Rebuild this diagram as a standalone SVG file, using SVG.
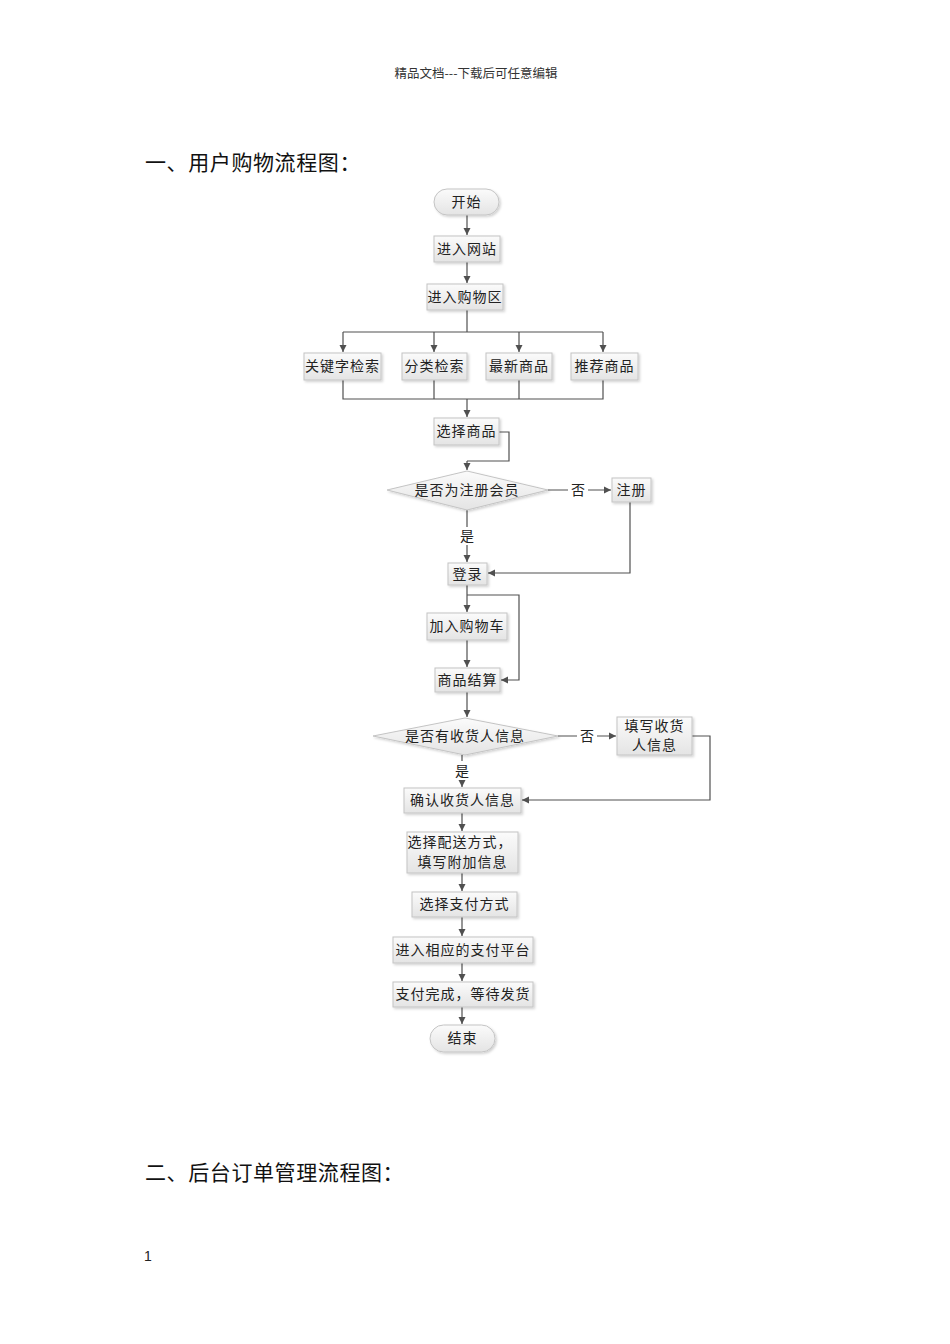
<svg xmlns="http://www.w3.org/2000/svg" width="950" height="1344" viewBox="0 0 950 1344">
<style>
.bg{fill:#ffffff}
.box{fill:url(#g);stroke:#c4c4c4;stroke-width:1;filter:url(#sh)}
.t{font-family:"Noto Sans CJK SC","Liberation Sans",sans-serif;font-size:14px;fill:#222;text-anchor:middle;dominant-baseline:central;letter-spacing:1px;transform:translateY(-1.5px)}
.lbl{font-family:"Noto Sans CJK SC","Liberation Sans",sans-serif;font-size:14px;fill:#222;text-anchor:middle;dominant-baseline:central;transform:translateY(-1.5px)}
.ln{fill:none;stroke:#505050;stroke-width:1.2}
.arr{fill:none;stroke:#505050;stroke-width:1.2;marker-end:url(#a)}
.h{font-family:"Noto Sans CJK SC","Liberation Sans",sans-serif;font-size:21px;fill:#111;letter-spacing:0.6px}
.hd{font-family:"Noto Sans CJK SC","Liberation Serif",serif;font-size:12.5px;fill:#333;text-anchor:middle}
</style>
<defs>
<linearGradient id="g" x1="0" y1="0" x2="0" y2="1">
<stop offset="0" stop-color="#fbfbfb"/>
<stop offset="1" stop-color="#e4e4e4"/>
</linearGradient>
<filter id="sh" x="-10%" y="-10%" width="130%" height="140%">
<feDropShadow dx="1.5" dy="1.5" stdDeviation="0.8" flood-color="#000" flood-opacity="0.18"/>
</filter>
<marker id="a" markerWidth="8" markerHeight="8" refX="7" refY="4" orient="auto" markerUnits="userSpaceOnUse">
<path d="M0,0.5 L7,4 L0,7.5 Z" fill="#505050"/>
</marker>
</defs>
<rect class="bg" x="0" y="0" width="950" height="1344"/>

<text class="hd" x="476" y="78">精品文档---下载后可任意编辑</text>
<text class="h" x="145" y="170">一、用户购物流程图：</text>
<text class="h" x="145" y="1180">二、后台订单管理流程图：</text>
<text x="144" y="1261" style="font-family:'Liberation Sans',sans-serif;font-size:14px;fill:#222">1</text>

<g id="connectors">
<path class="arr" d="M467,215 V235"/>
<path class="arr" d="M467,262 V283"/>
<path class="ln" d="M467,310 V332"/>
<path class="ln" d="M343,332 H603"/>
<path class="arr" d="M343,332 V352"/>
<path class="arr" d="M434,332 V352"/>
<path class="arr" d="M519,332 V352"/>
<path class="arr" d="M603,332 V352"/>
<path class="ln" d="M343,380 V399 H603 V380"/>
<path class="ln" d="M434,380 V399"/>
<path class="ln" d="M519,380 V399"/>
<path class="arr" d="M467,399 V417"/>
<path class="ln" d="M499,432 H509 V461 H467"/>
<path class="arr" d="M467,461 V470"/>
<path class="arr" d="M548,490 H611"/>
<path class="ln" d="M467,510 V527"/>
<path class="arr" d="M467,545 V562"/>
<path class="arr" d="M630,502 V573 H488"/>
<path class="arr" d="M467,585 V612"/>
<path class="arr" d="M467,595 H519 V680 H501"/>
<path class="arr" d="M467,640 V667"/>
<path class="arr" d="M467,692 V717"/>
<path class="arr" d="M558,736 H616"/>
<path class="arr" d="M692,736 H710 V800 H522"/>
<path class="ln" d="M462,755 V761"/>
<path class="arr" d="M462,780 V787"/>
<path class="arr" d="M462,813 V831"/>
<path class="arr" d="M462,873 V891"/>
<path class="arr" d="M462,917 V936"/>
<path class="arr" d="M462,963 V981"/>
<path class="arr" d="M462,1007 V1024"/>
<rect x="568" y="481" width="20" height="18" fill="#fff"/>
<text class="lbl" x="578" y="490">否</text>
<text class="lbl" x="467" y="536">是</text>
<rect x="577" y="727" width="20" height="18" fill="#fff"/>
<text class="lbl" x="587" y="736">否</text>
<text class="lbl" x="462" y="771">是</text>
</g>

<g id="start"><rect class="box" x="434" y="189" width="65" height="26" rx="13"/><text class="t" x="466.5" y="202">开始</text></g>
<g id="enter-site"><rect class="box" x="434" y="236" width="66" height="26"/><text class="t" x="467" y="249">进入网站</text></g>
<g id="enter-shop"><rect class="box" x="427" y="284" width="76" height="26"/><text class="t" x="465" y="297">进入购物区</text></g>
<g id="kw"><rect class="box" x="304" y="353" width="77" height="27"/><text class="t" x="342.5" y="366.5">关键字检索</text></g>
<g id="cat"><rect class="box" x="402" y="353" width="65" height="27"/><text class="t" x="434.5" y="366.5">分类检索</text></g>
<g id="new"><rect class="box" x="486" y="353" width="66" height="27"/><text class="t" x="519" y="366.5">最新商品</text></g>
<g id="rec"><rect class="box" x="571" y="353" width="67" height="27"/><text class="t" x="604.5" y="366.5">推荐商品</text></g>
<g id="select"><rect class="box" x="434" y="418" width="65" height="27"/><text class="t" x="466.5" y="431.5">选择商品</text></g>
<g id="member"><polygon class="box" points="467,471 548,490 467,510 387,490"/><text class="t" x="467" y="490">是否为注册会员</text></g>
<g id="register"><rect class="box" x="612" y="478" width="39" height="24"/><text class="t" x="631.5" y="490">注册</text></g>
<g id="login"><rect class="box" x="448" y="563" width="39" height="22"/><text class="t" x="467.5" y="574">登录</text></g>
<g id="cart"><rect class="box" x="427" y="613" width="80" height="27"/><text class="t" x="467" y="626.5">加入购物车</text></g>
<g id="checkout"><rect class="box" x="435" y="668" width="65" height="24"/><text class="t" x="467.5" y="680">商品结算</text></g>
<g id="addr"><polygon class="box" points="465,718 558,736 465,755 373,736"/><text class="t" x="465" y="736">是否有收货人信息</text></g>
<g id="fill-addr"><rect class="box" x="617" y="717" width="75" height="38"/><text class="t" x="654.5" y="726">填写收货</text><text class="t" x="654.5" y="745">人信息</text></g>
<g id="confirm"><rect class="box" x="404" y="788" width="117" height="25"/><text class="t" x="462.5" y="800.5">确认收货人信息</text></g>
<g id="ship"><rect class="box" x="407" y="832" width="111" height="41"/><text class="t" x="460" y="842">选择配送方式，</text><text class="t" x="462.5" y="862">填写附加信息</text></g>
<g id="paymethod"><rect class="box" x="412" y="892" width="105" height="25"/><text class="t" x="464.5" y="904.5">选择支付方式</text></g>
<g id="payplat"><rect class="box" x="393" y="937" width="140" height="26"/><text class="t" x="463" y="950">进入相应的支付平台</text></g>
<g id="paid"><rect class="box" x="393" y="982" width="140" height="25"/><text class="t" x="463" y="994.5">支付完成，等待发货</text></g>
<g id="end"><rect class="box" x="430" y="1025" width="65" height="27" rx="13.5"/><text class="t" x="462.5" y="1038.5">结束</text></g>
</svg>
